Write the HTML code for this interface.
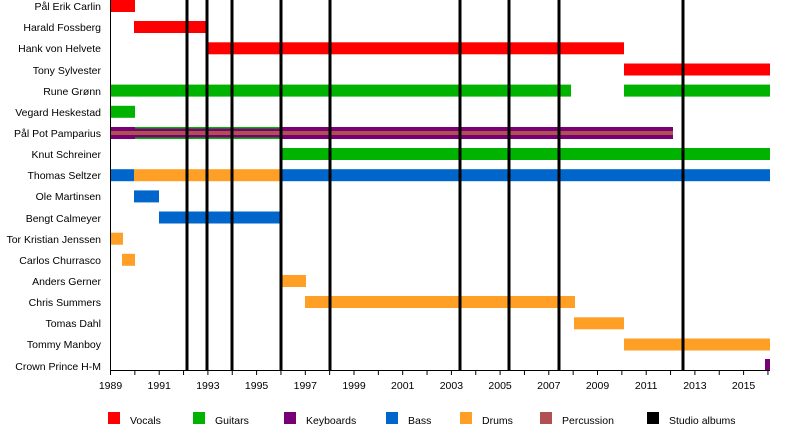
<!DOCTYPE html>
<html><head><meta charset="utf-8"><style>body{margin:0;background:#fff}svg{display:block;font-family:"Liberation Sans",sans-serif;font-size:10.5px}</style></head><body>
<svg width="800" height="430" viewBox="0 0 800 430" xmlns="http://www.w3.org/2000/svg">
<g fill="#f00">
<rect x="110" y="0" width="25" height="12"/>
<rect x="134" y="21" width="73" height="12"/>
<rect x="207" y="42.3" width="417" height="12"/>
<rect x="624" y="63.5" width="146" height="12"/>
</g>
<g fill="#00b300">
<rect x="110" y="84.6" width="461" height="12"/>
<rect x="624" y="84.6" width="146" height="12"/>
<rect x="110" y="105.8" width="25" height="12"/>
<rect x="281" y="148" width="489" height="12"/>
</g>
<rect x="110" y="127" width="563" height="12" fill="#770077"/>
<rect x="110" y="131" width="563" height="4" fill="#b05050"/>
<rect x="135" y="127" width="146" height="1.5" fill="#00b300"/>
<rect x="135" y="137.5" width="146" height="1.5" fill="#00b300"/>
<g fill="#0066cc">
<rect x="110" y="169.2" width="24" height="12"/>
<rect x="282" y="169.2" width="488" height="12"/>
<rect x="134" y="190.4" width="25" height="12"/>
<rect x="159" y="211.5" width="122" height="12"/>
</g>
<g fill="#ff9f25">
<rect x="134" y="169.2" width="148" height="12"/>
<rect x="110" y="232.7" width="13" height="12"/>
<rect x="122" y="253.8" width="13" height="12"/>
<rect x="281" y="275" width="25" height="12"/>
<rect x="305" y="296" width="270" height="12"/>
<rect x="574" y="317.3" width="50" height="12"/>
<rect x="624" y="338.5" width="146" height="12"/>
</g>
<rect x="765" y="359" width="5" height="11" fill="#770077"/>
<g stroke="#000" stroke-width="3">
<line x1="187" y1="0" x2="187" y2="370"/><line x1="207" y1="0" x2="207" y2="370"/>
<line x1="232" y1="0" x2="232" y2="370"/><line x1="281" y1="0" x2="281" y2="370"/>
<line x1="330" y1="0" x2="330" y2="370"/><line x1="460" y1="0" x2="460" y2="370"/>
<line x1="509" y1="0" x2="509" y2="370"/><line x1="559" y1="0" x2="559" y2="370"/>
<line x1="683" y1="0" x2="683" y2="370"/>
</g>
<g stroke="#000" stroke-width="1">
<line x1="110.5" y1="0" x2="110.5" y2="370"/><line x1="110" y1="370.5" x2="770" y2="370.5"/>
</g>
<g stroke="#000" stroke-width="1" id="ticks"></g>
<g text-anchor="middle" id="yl"></g>
<g text-anchor="end" fill="#000">
<text x="101" y="10">Pål Erik Carlin</text><text x="101" y="31">Harald Fossberg</text><text x="101" y="52">Hank von Helvete</text><text x="101" y="74">Tony Sylvester</text><text x="101" y="95">Rune Grønn</text><text x="101" y="116">Vegard Heskestad</text><text x="101" y="137">Pål Pot Pamparius</text><text x="101" y="158">Knut Schreiner</text><text x="101" y="179">Thomas Seltzer</text><text x="101" y="200">Ole Martinsen</text><text x="101" y="222">Bengt Calmeyer</text><text x="101" y="243">Tor Kristian Jenssen</text><text x="101" y="264">Carlos Churrasco</text><text x="101" y="285">Anders Gerner</text><text x="101" y="306">Chris Summers</text><text x="101" y="327">Tomas Dahl</text><text x="101" y="348">Tommy Manboy</text><text x="101" y="370">Crown Prince H-M</text>
</g>
<g>
<rect x="108" y="412" width="12" height="12" fill="#f00"/><text x="130" y="424">Vocals</text>
<rect x="193" y="412" width="12" height="12" fill="#00b300"/><text x="215" y="424">Guitars</text>
<rect x="284" y="412" width="12" height="12" fill="#770077"/><text x="306" y="424">Keyboards</text>
<rect x="386" y="412" width="12" height="12" fill="#0066cc"/><text x="408" y="424">Bass</text>
<rect x="460" y="412" width="12" height="12" fill="#ff9f25"/><text x="482" y="424">Drums</text>
<rect x="540" y="412" width="12" height="12" fill="#b05050"/><text x="562" y="424">Percussion</text>
<rect x="647" y="412" width="12" height="12" fill="#000"/><text x="669" y="424">Studio albums</text>
</g>
<script>
var t=document.getElementById('ticks'),l=document.getElementById('yl'),ns='http://www.w3.org/2000/svg';
for(var y=1989;y<=2016;y++){var x=110.5+(y-1989)*24.35;var e=document.createElementNS(ns,'line');e.setAttribute('x1',x);e.setAttribute('x2',x);e.setAttribute('y1',370);e.setAttribute('y2',375);t.appendChild(e);
if((y-1989)%2==0){var s=document.createElementNS(ns,'text');s.setAttribute('x',x);s.setAttribute('y',389);s.textContent=y;l.appendChild(s);}}
</script>
</svg>
</body></html>
